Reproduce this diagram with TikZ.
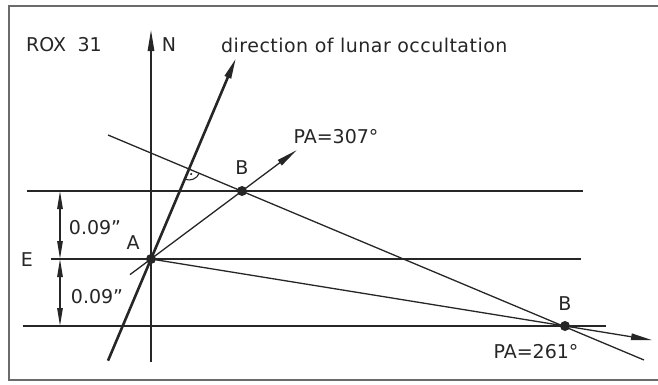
\documentclass[tikz,border=0pt]{standalone}
\usepackage{fontspec}
\setmainfont{DejaVu Sans}
\usetikzlibrary{arrows.meta,calc}
\definecolor{ink}{gray}{0.15}
\definecolor{framecol}{gray}{0.42}
\begin{document}
\begin{tikzpicture}[x=1pt,y=1pt,
  thinline/.style={draw=ink, line width=1.3pt},
  thickline/.style={draw=ink, line width=2.6pt},
  headed/.style={-{Triangle[length=21pt,width=6.5pt]}},
  dimarrow/.style={draw=ink, line width=1.3pt, {Triangle[length=18pt,width=5.5pt]}-{Triangle[length=18pt,width=5.5pt]}},
  dotnode/.style={circle, fill=ink, inner sep=0pt, minimum size=10pt},
  lbl/.style={text=ink, inner sep=0pt, font=\fontsize{19}{22}\selectfont}]
\useasboundingbox (0,0) rectangle (658,384);
% frame
\draw[draw=framecol, line width=1.6pt] (658,378) -- (9,378) -- (9,4) -- (658,4);
% key coordinates
\coordinate (Apos) at (151,125);
\coordinate (B1pos) at (242,193);
\coordinate (B2pos) at (565,58);
% horizontal lines
\coordinate (h1a) at (27,193);  \coordinate (h1b) at (583,193);
\coordinate (h2a) at (51,125);  \coordinate (h2b) at (581,125);
\coordinate (h3a) at (23,58);   \coordinate (h3b) at (606,58);
\draw[thinline] (h1a) -- (h1b);
\draw[thinline] (h2a) -- (h2b);
\draw[thinline] (h3a) -- (h3b);
% north axis
\coordinate (Nbot) at (151,22);
\coordinate (Ntop) at (151,354);
\draw[thinline, headed] (Nbot) -- (Ntop);
% direction of lunar occultation
\coordinate (O1) at (108,23.3);
\coordinate (O2) at (236,326);
\draw[thickline, headed] (O1) -- (O2);
% line perpendicular through the B positions
\coordinate (L1) at (108,249);
\coordinate (L2) at (644,24);
\draw[thinline] (L1) -- (L2);
% PA = 307 line
\coordinate (P1s) at (130,109.4);
\coordinate (P1e) at (296.6,233.8);
\draw[thinline] (P1s) -- (B1pos);
\draw[thinline, headed] (B1pos) -- (P1e);
% PA = 261 line
\coordinate (P2e) at (652,43.9);
\draw[thinline] (Apos) -- (B2pos);
\draw[thinline, headed] (B2pos) -- (P2e);
% right angle mark
\coordinate (P) at (intersection of O1--O2 and L1--L2);
\draw[ink, line width=1.1pt] ($(P)+(247.3:11)$) arc[start angle=247.3, end angle=337.3, radius=11];
\fill[ink] ($(P)+(292.3:5.5)$) circle (1.2pt);
% dimension arrows
\coordinate (d1) at (60,193);
\coordinate (d2) at (60,125);
\coordinate (d3) at (60,58);
\draw[dimarrow] (d1) -- (d2);
\draw[dimarrow] (d2) -- (d3);
% dots
\node[dotnode] (A) at (Apos) {};
\node[dotnode] (B1) at (B1pos) {};
\node[dotnode] (B2) at (B2pos) {};
% labels
\node[lbl] (rox) at (64,339) {ROX\hspace{0.6em}31};
\node[lbl] (Nlbl) at (169,339) {N};
\node[lbl, anchor=west] (dir) at (221,339) {\addfontfeature{LetterSpace=2.5}direction of lunar occultation};
\node[lbl] (pa307) at (336,247) {PA=307°};
\node[lbl] (pa261) at (536,32) {PA=261°};
\node[lbl] (Bup) at (242,216) {B};
\node[lbl] (Blow) at (565,80) {B};
\node[lbl] (Alab) at (133,141) {A};
\node[lbl] (Elab) at (27,124) {E};
\node[lbl] (dup) at (95,156) {0.09''};
\node[lbl] (dlow) at (97,87) {0.09''};
\end{tikzpicture}
\end{document}
